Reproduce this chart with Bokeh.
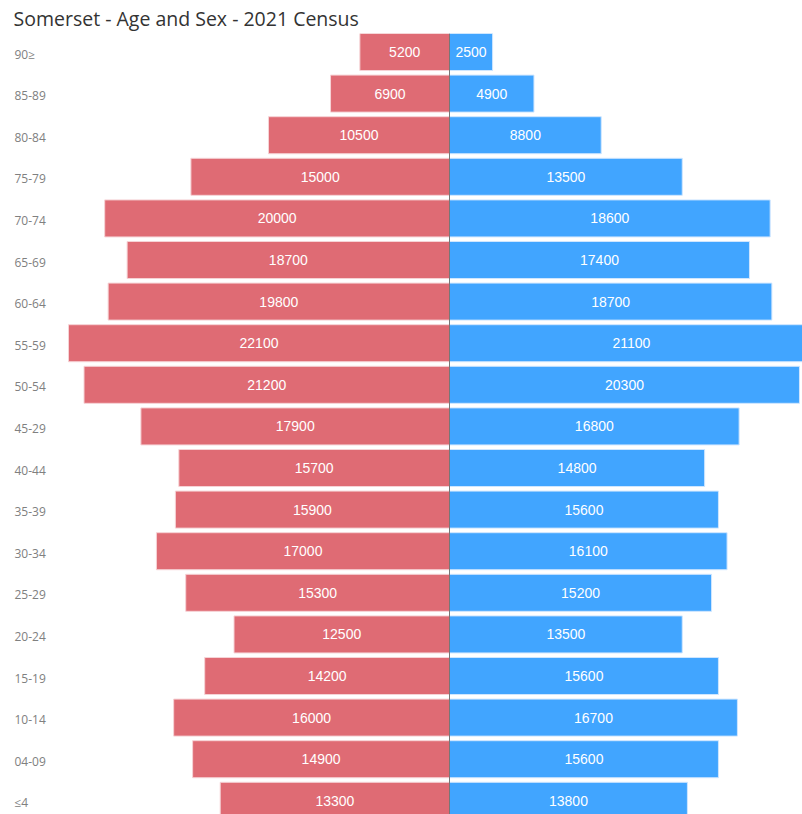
from bokeh.plotting import figure
from bokeh.models import ColumnDataSource, Range1d, Span
from bokeh.core.properties import value
from bokeh.embed import file_html
from bokeh.resources import INLINE

age_groups = ["90≥", "85-89", "80-84", "75-79", "70-74", "65-69", "60-64", "55-59", "50-54",
              "45-29", "40-44", "35-39", "30-34", "25-29", "20-24", "15-19", "10-14", "04-09", "≤4"]
female = [5200, 6900, 10500, 15000, 20000, 18700, 19800, 22100, 21200,
          17900, 15700, 15900, 17000, 15300, 12500, 14200, 16000, 14900, 13300]
male = [2500, 4900, 8800, 13500, 18600, 17400, 18700, 21100, 20300,
        16800, 14800, 15600, 16100, 15200, 13500, 15600, 16700, 15600, 13800]

n = len(age_groups)
ypos = [n - 1 - i for i in range(n)]

W, H = 802, 814
px_per_unit = 17.24 / 1000.0
center_px = 449
x_start = -center_px / px_per_unit
x_end = (W - center_px) / px_per_unit
bar_h = 0.89
top_px = 33
row_px = 41.6
y_top = (n - 1) + bar_h / 2
y_bottom = y_top - (H - top_px) / row_px

src = ColumnDataSource(dict(
    y=ypos,
    label=age_groups,
    f_left=[-v for v in female],
    f_mid=[-v / 2 for v in female],
    f_txt=[str(v) for v in female],
    m_right=male,
    m_mid=[v / 2 for v in male],
    m_txt=[str(v) for v in male],
    zero=[0] * n,
    lab_x=[x_start + 14 / px_per_unit] * n,
))

p = figure(width=W, height=H, output_backend="svg", toolbar_location=None,
           x_range=Range1d(x_start, x_end), y_range=Range1d(y_bottom, y_top),
           min_border_left=0, min_border_right=0, min_border_bottom=0, min_border_top=0)

p.title.text = "Somerset - Age and Sex - 2021 Census"
p.title.text_font = "Open Sans"
p.title.text_font_size = "19.5px"
p.title.text_font_style = "normal"
p.title.text_color = "#333333"
p.title.offset = 13
p.title.standoff = 4

p.axis.visible = False
p.grid.visible = False
p.outline_line_color = None
p.background_fill_color = "white"
p.border_fill_color = "white"

p.hbar(y="y", left="f_left", right="zero", height=bar_h, source=src,
       fill_color="#DF6B74", line_color="#F6D3D6", line_width=1)
p.hbar(y="y", left="zero", right="m_right", height=bar_h, source=src,
       fill_color="#41A5FF", line_color="#CFE6FF", line_width=1)

p.add_layout(Span(location=0, dimension="height", line_color="#777777", line_width=1))

p.text(x="f_mid", y="y", text="f_txt", source=src, text_align="center", text_baseline="middle",
       text_color="white", text_font=value("Liberation Sans"), text_font_size="14px")
p.text(x="m_mid", y="y", text="m_txt", source=src, text_align="center", text_baseline="middle",
       text_color="white", text_font=value("Liberation Sans"), text_font_size="14px")
p.text(x="lab_x", y="y", text="label", source=src, text_align="left", text_baseline="middle",
       y_offset=2, text_color="#808080", text_font=value("Open Sans"), text_font_size="12px")

open("out.html", "w").write(file_html(p, INLINE))
